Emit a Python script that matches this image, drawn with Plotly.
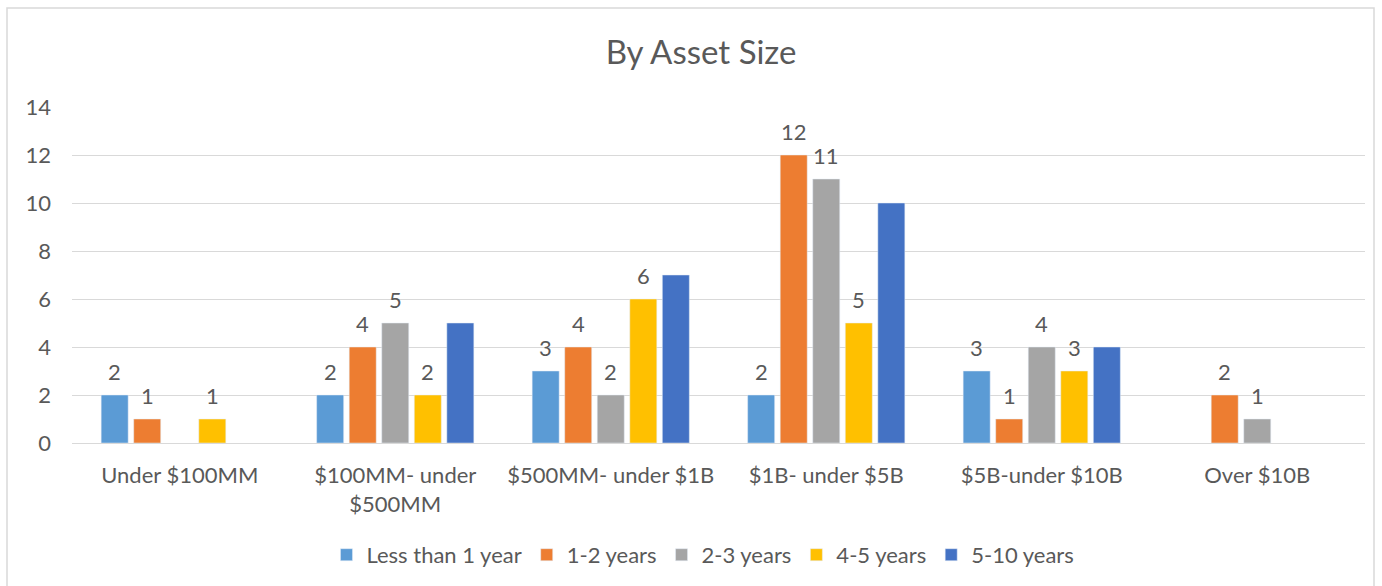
import plotly.graph_objects as go

categories = ["Under $100MM", "$100MM- under<br>$500MM", "$500MM- under $1B",
              "$1B- under $5B", "$5B-under $10B", "Over $10B"]
series_names = ["Less than 1 year", "1-2 years", "2-3 years", "4-5 years", "5-10 years"]
less_than_1 = [2, 2, 3, 2, 3, None]
y1_2 = [1, 4, 4, 12, 1, 2]
y2_3 = [None, 5, 2, 11, 4, 1]
y4_5 = [1, 2, 6, 5, 3, None]
y5_10 = [None, 5, 7, 10, 4, None]
show_labels = [True, True, True, True, False]
colors = ["#5B9BD5", "#ED7D31", "#A5A5A5", "#FFC000", "#4472C4"]

font_family = "Lato, Open Sans, Arial, sans-serif"
txt = "#595959"

W, H = 1382, 586
ml, mr, mt, mb = 72, 17, 107, 143
bargap, bargroupgap = 0.245, 0.17
plot_w = W - ml - mr
n_series = len(series_names)
slot = plot_w / len(categories) * (1 - bargap) / n_series

fig = go.Figure()
annotations = []
all_series = [less_than_1, y1_2, y2_3, y4_5, y5_10]
for i, (name, vals, col, lab) in enumerate(zip(series_names, all_series, colors, show_labels)):
    fig.add_trace(go.Bar(x=categories, y=vals, name=name, marker_color=col))
    if lab:
        for cat, v in zip(categories, vals):
            if v is None:
                continue
            annotations.append(dict(
                x=cat, y=v, xref="x", yref="y", text=str(v), showarrow=False,
                xshift=(i - (n_series - 1) / 2) * slot, yshift=24, yanchor="middle",
                font=dict(size=22, color=txt, family=font_family)))

fig.update_layout(
    width=W, height=H,
    paper_bgcolor="white", plot_bgcolor="white",
    margin=dict(l=ml, r=mr, t=mt, b=mb, autoexpand=False),
    barmode="group", bargap=bargap, bargroupgap=bargroupgap,
    title=dict(text="By Asset Size", x=701 / W, xanchor="center", y=1 - 52/H, yanchor="middle",
               font=dict(size=33, color=txt, family=font_family)),
    font=dict(family=font_family, color=txt, size=22),
    legend=dict(orientation="h", x=0.488, xanchor="center", y=-0.333, yanchor="middle",
                font=dict(size=22, color=txt, family=font_family), traceorder="normal",
                itemwidth=30),
    xaxis=dict(showgrid=False, showline=False, ticks="", tickfont=dict(size=22, color=txt),
               ticklabelstandoff=17),
    yaxis=dict(range=[0, 14], dtick=2, showgrid=True, gridcolor="#D9D9D9", gridwidth=1,
               zeroline=True, zerolinecolor="#D9D9D9", zerolinewidth=1,
               tickfont=dict(size=22, color=txt), ticklabelstandoff=20),
    annotations=annotations,
    shapes=[dict(type="rect", xref="paper", yref="paper",
                 x0=(7-ml)/plot_w, x1=(1374-ml)/plot_w, y0=-0.6, y1=(H-mb-8)/(H-mt-mb),
                 line=dict(color="#D9D9D9", width=1.5), fillcolor="rgba(0,0,0,0)", layer="below")],
)

fig.write_html("out.html", config={"displayModeBar": False},
               post_script="document.body.style.margin='0';")
